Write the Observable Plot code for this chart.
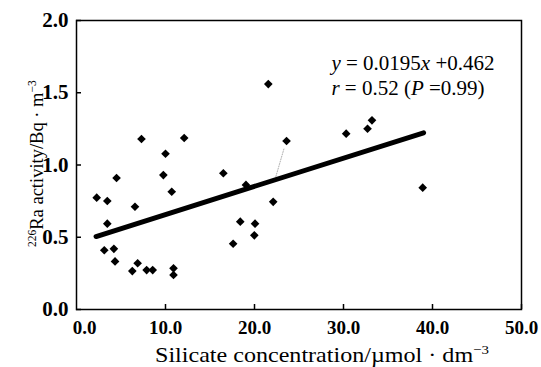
<!DOCTYPE html>
<html><head><meta charset="utf-8">
<script src="https://cdn.jsdelivr.net/npm/d3@7"></script>
<script src="https://cdn.jsdelivr.net/npm/@observablehq/plot@0.6"></script>
<style>body{margin:0;background:#fff} svg{display:block}</style>
</head><body><div id="chart"></div>
<script>
// Silicate concentration (µmol/dm3) and 226Ra activity (Bq/m3)
const silicate = [2.27, 3.46, 3.46, 3.12, 4.2, 4.33, 4.5, 6.27, 6.87, 6.57, 7.3, 7.88, 8.56, 9.76, 10.0, 10.7, 10.9, 10.9, 12.1, 16.5, 17.6, 18.4, 19.04, 20.06, 19.98, 21.55, 22.1, 23.6, 30.3, 32.7, 33.2, 38.9];
const radium   = [0.774, 0.751, 0.594, 0.41, 0.42, 0.333, 0.91, 0.266, 0.32, 0.711, 1.18, 0.273, 0.273, 0.93, 1.078, 0.815, 0.285, 0.239, 1.187, 0.943, 0.455, 0.608, 0.862, 0.594, 0.513, 1.56, 0.745, 1.166, 1.217, 1.251, 1.309, 0.843];
// regression line end points (y = 0.0195x + 0.462)
const fitX = [2.2, 39.0];
const fitY = [0.505, 1.223];
// thin dotted guide near x = 23
const guideX = [23.3, 22.4];
const guideY = [1.11, 0.92];
const xTicks = [0, 10, 20, 30, 40, 50];
const xTickLabels = ["0.0", "10.0", "20.0", "30.0", "40.0", "50.0"];
const yTicks = [0, 0.5, 1.0, 1.5, 2.0];
const yTickLabels = ["0.0", "0.5", "1.0", "1.5", "2.0"];
const eqLine1 = [["y", true], [" = 0.0195", false], ["x", true], [" +0.462", false]];
const eqLine2 = [["r", true], [" = 0.52 (", false], ["P", true], [" =0.99)", false]];

const points = silicate.map((x, i) => ({x, y: radium[i]}));
const fit = fitX.map((x, i) => ({x, y: fitY[i]}));
const guide = guideX.map((x, i) => ({x, y: guideY[i]}));

const font = "'Liberation Serif', 'Times New Roman', serif";
const xFmt = d => xTickLabels[xTicks.indexOf(d)];
const chart = Plot.plot({
  width: 541, height: 367,
  marginLeft: 76, marginRight: 20, marginTop: 20, marginBottom: 58,
  style: {fontFamily: font, background: "#fff", color: "#000"},
  x: {domain: [0, 50]},
  y: {domain: [0, 2]},
  marks: [
    Plot.axisX({ticks: xTicks.slice(1), tickFormat: xFmt, tickSize: -5, tickPadding: 16, fontSize: 19, fontWeight: "bold", label: null, strokeWidth: 1.5}),
    Plot.axisX({ticks: xTicks.slice(0, 1), tickFormat: xFmt, tickSize: 0, tickPadding: 11, dx: 8, fontSize: 19, fontWeight: "bold", label: null}),
    Plot.axisY({ticks: yTicks, tickFormat: d => yTickLabels[yTicks.indexOf(d)], tickSize: -5, tickPadding: 13, fontSize: 21, fontWeight: "bold", label: null, strokeWidth: 1.5}),
    Plot.line(guide, {x: "x", y: "y", stroke: "#999", strokeWidth: 0.8, strokeDasharray: "1,1.5"}),
    Plot.line(fit, {x: "x", y: "y", stroke: "#000", strokeWidth: 5}),
    Plot.dot(points, {x: "x", y: "y", symbol: "diamond2", r: 3.9, fill: "#000", stroke: "none"}),
    Plot.frame({stroke: "#000", strokeWidth: 1.5})
  ]
});
document.getElementById("chart").append(chart);

const svg = d3.select(chart);
const sx = chart.scale("x"), sy = chart.scale("y");

// Equation annotation
function eq(parts, xv, yv) {
  const t = svg.append("text").attr("x", sx.apply(xv)).attr("y", sy.apply(yv))
    .attr("text-anchor", "start")
    .attr("font-family", font).attr("font-size", 21).attr("fill", "#000");
  parts.forEach(([s, it]) => { const ts = t.append("tspan").text(s); if (it) ts.attr("font-style", "italic"); });
}
eq(eqLine1, 28.7, 1.657);
eq(eqLine2, 28.7, 1.484);

// X axis title
const xt = svg.append("text").attr("x", 155).attr("y", 362).attr("text-anchor", "start")
  .attr("font-family", font).attr("font-size", 21).attr("fill", "#000")
  .attr("textLength", 334).attr("lengthAdjust", "spacingAndGlyphs");
xt.append("tspan").text("Silicate concentration/\u00b5mol \u00b7 dm");
xt.append("tspan").attr("dy", -8).attr("font-size", 13).text("\u22123");

// Y axis title
const yt = svg.append("text").attr("transform", "translate(43,247) rotate(-90)").attr("text-anchor", "start")
  .attr("font-family", font).attr("font-size", 18.5).attr("fill", "#000");
yt.append("tspan").attr("dy", -7).attr("font-size", 11.5).text("226");
yt.append("tspan").attr("dy", 7).text("Ra activity/Bq \u00b7 m");
yt.append("tspan").attr("dy", -7).attr("font-size", 11.5).text("\u22123");
</script>
</body></html>
